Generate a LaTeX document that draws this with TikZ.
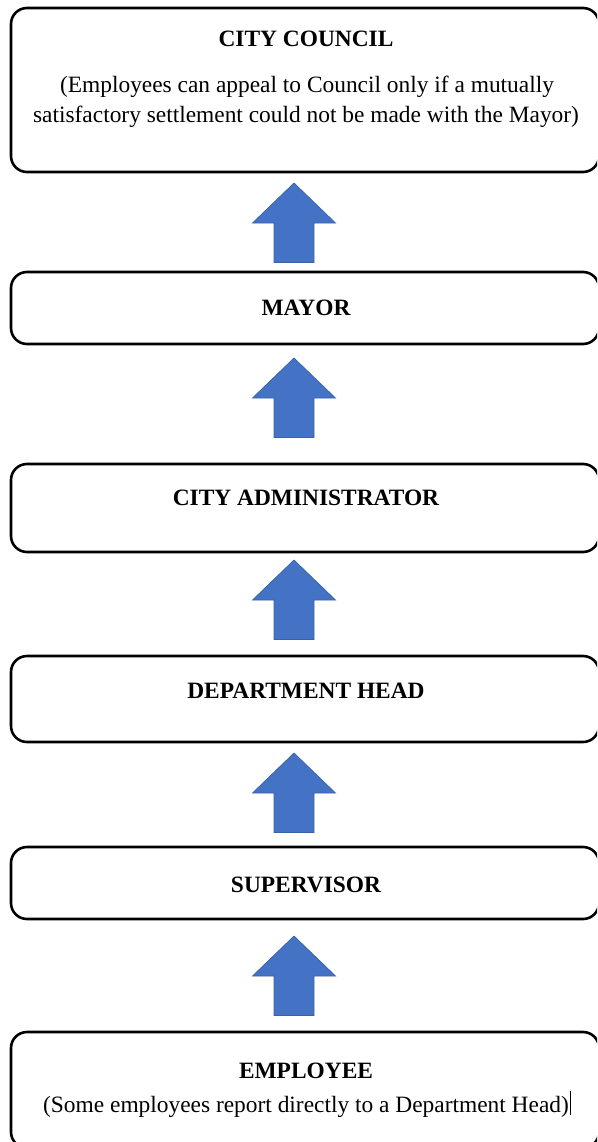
\documentclass[tikz,border=0pt]{standalone}
\usepackage{fontspec}
\setmainfont{Liberation Serif}
\definecolor{arrowblue}{HTML}{4472C4}
\definecolor{arrowedge}{HTML}{3A62A8}
\begin{document}
\begin{tikzpicture}[x=1pt,y=-1pt,
  stage/.style={draw=black, line width=2.6pt, rounded corners=16pt,
    minimum width=588pt, inner sep=0pt},
  title/.style={font=\fontsize{23.4}{28}\selectfont\bfseries, anchor=base, inner sep=0pt},
  note/.style={font=\fontsize{23.4}{28}\selectfont, anchor=base, inner sep=0pt},
  upblock/.style={fill=arrowblue, draw=arrowedge, line width=0.7pt, line join=miter}]
\useasboundingbox (0,0) rectangle (597,1142);
\clip (0,0) rectangle (597,1142);

% the six levels of the appeal chain
\node[stage, minimum height=164pt] (council)  at (305,90)   {};
\node[stage, minimum height=72pt]  (mayor)    at (305,308)  {};
\node[stage, minimum height=88pt]  (admin)    at (305,508)  {};
\node[stage, minimum height=86pt]  (dept)     at (305,699)  {};
\node[stage, minimum height=72pt]  (super)    at (305,883)  {};
\node[stage, minimum height=116pt] (employee) at (305,1090) {};

% labels
\node[title] (councilT) at (306,47)  {CITY COUNCIL};
\node[note]  (councilA) at (307,93)  {(Employees can appeal to Council only if a mutually};
\node[note]  (councilB) at (306,123) {satisfactory settlement could not be made with the Mayor)};
\node[title] (mayorT)   at (306,315) {MAYOR};
\node[title] (adminT)   at (306,505) {CITY ADMINISTRATOR};
\node[title] (deptT)    at (306,698) {DEPARTMENT HEAD};
\node[title] (superT)   at (306,892) {SUPERVISOR};
\node[title] (empT)     at (306,1078) {EMPLOYEE};
\node[note]  (empA)     at (306,1112) {(Some employees report directly to a Department Head)};
\draw[line width=1pt] ([xshift=1.5pt,yshift=-3pt]empA.base east) -- ++(0,-24);

% block arrows pointing up the chain
\coordinate (up1) at (294,183);
\coordinate (up2) at (294,358);
\coordinate (up3) at (294,560);
\coordinate (up4) at (294,753);
\coordinate (up5) at (294,936);
\foreach \c in {up1,up2,up3,up4,up5}
  \draw[upblock] (\c) -- ++(41.5,40) -- ++(-21.5,0) -- ++(0,39.5) -- ++(-40,0)
    -- ++(0,-39.5) -- ++(-21.5,0) -- cycle;
\end{tikzpicture}
\end{document}
